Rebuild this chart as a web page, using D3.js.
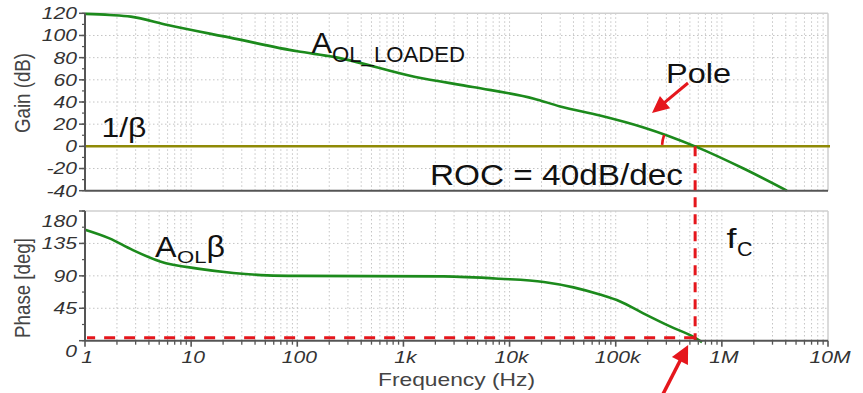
<!DOCTYPE html>
<html><head><meta charset="utf-8">
<script src="https://cdn.jsdelivr.net/npm/d3@7"></script>
<style>html,body{margin:0;padding:0;background:#fff;} svg{display:block;}</style>
</head><body>
<svg id="chart" width="863" height="393"></svg>
<script>
// Frequency axis (Hz), decades with their labels
const decadeTicks = [1, 10, 100, 1e3, 1e4, 1e5, 1e6, 1e7];
const decadeLabels = ["1", "10", "100", "1k", "10k", "100k", "1M", "10M"];
const gainTicks = [-40, -20, 0, 20, 40, 60, 80, 100, 120];
const phaseTicks = [0, 45, 90, 135, 180];

// Open-loop gain of the loaded amplifier, A_OL_LOADED (dB)
const gainFreq = [1, 1.7, 2.7, 6, 25, 100, 220, 1300, 4500, 17000, 30000, 71000, 180000, 560000, 1600000, 4100000];
const gainDb   = [119.5, 118.5, 117, 109.4, 97.4, 85.7, 80.7, 62.6, 53.5, 43, 36, 27.9, 17.3, 0, -20, -40];

// Loop-gain phase, A_OL·β (deg)
const phaseFreq = [1, 1.7, 2.8, 5.1, 12, 25, 52, 100, 2400, 8000, 21000, 40000, 71000, 110000, 180000, 325000, 560000, 650000];
const phaseDeg  = [154, 142, 126, 110, 99.7, 94, 90.7, 90, 89.3, 86, 81.4, 74, 64, 54.4, 38.3, 19.8, 4, -2];

// Feedback factor line (1/β, dB) and the crossover point
const invBetaDb = 0;
const crossoverHz = 560000;
const crossoverPhase = 4;

const svg = d3.select("#chart");
const x  = d3.scaleLog().domain([1, 1e7]).range([85, 828]);
const yG = d3.scaleLinear().domain([-40, 120]).range([190.7, 13.3]);
const yP = d3.scaleLinear().domain([0, 180]).range([340.7, 211]);

const GREEN = "#1c8a1c", OLIVE = "#8f8a06", RED = "#e5161c", AXIS = "#555", GRID = "#c4c4c4";
const FONT = "'Liberation Sans', Arial, sans-serif";

// minor + major decade positions for the vertical grid
const minorFreqs = [];
for (let d = 0; d < 7; d++) for (let m = 2; m <= 9; m++) minorFreqs.push(m * Math.pow(10, d));
const gridFreqs = minorFreqs.concat(decadeTicks.slice(1, -1));

function panel(y, ticks) {
  const g = svg.append("g");
  const [y0, y1] = y.range();
  // dotted grid
  g.selectAll(".vg").data(gridFreqs).join("line")
    .attr("x1", d => x(d)).attr("x2", d => x(d)).attr("y1", y1).attr("y2", y0)
    .attr("stroke", GRID).attr("stroke-width", 1).attr("stroke-dasharray", "1.5,2.5");
  g.selectAll(".hg").data(ticks.slice(1, -1)).join("line")
    .attr("x1", x.range()[0]).attr("x2", x.range()[1]).attr("y1", d => y(d)).attr("y2", d => y(d))
    .attr("stroke", GRID).attr("stroke-width", 1).attr("stroke-dasharray", "1.5,2.5");
  // frame (top / right light)
  g.append("line").attr("x1", x.range()[0]).attr("x2", x.range()[1]).attr("y1", y1).attr("y2", y1)
    .attr("stroke", "#cfcfcf").attr("stroke-width", 1.5);
  g.append("line").attr("x1", x.range()[1]).attr("x2", x.range()[1]).attr("y1", y1).attr("y2", y0)
    .attr("stroke", "#cfcfcf").attr("stroke-width", 1.5);
  return g;
}

function leftAxis(y, ticks, minorStep, labelShift) {
  const g = svg.append("g");
  const [y0, y1] = y.range();
  const minors = d3.range(y.domain()[0], y.domain()[1] + 0.001, minorStep);
  g.selectAll(".mt").data(minors).join("line")
    .attr("x1", 82).attr("x2", 85).attr("y1", d => y(d)).attr("y2", d => y(d))
    .attr("stroke", AXIS).attr("stroke-width", 1.2);
  g.selectAll(".Mt").data(ticks).join("line")
    .attr("x1", 79).attr("x2", 85).attr("y1", d => y(d)).attr("y2", d => y(d))
    .attr("stroke", AXIS).attr("stroke-width", 1.5);
  g.append("line").attr("x1", 85).attr("x2", 85).attr("y1", y1).attr("y2", y0)
    .attr("stroke", AXIS).attr("stroke-width", 2);
  g.selectAll(".tl").data(ticks).join("text")
    .attr("transform", d => `translate(77,${y(d) + (labelShift[d] || 0)}) scale(1.28,1)`)
    .attr("text-anchor", "end").attr("dy", "0.36em")
    .attr("font-family", FONT).attr("font-style", "italic").attr("font-size", 16.5)
    .attr("fill", "#333").text(d => d);
}

function axisTitle(text, cx, cy) {
  svg.append("text")
    .attr("transform", `translate(${cx},${cy}) scale(1.15,1) rotate(-90)`)
    .attr("text-anchor", "middle").attr("font-family", FONT).attr("font-size", 18.7)
    .attr("fill", "#444").text(text);
}

// ---------- Gain panel ----------
panel(yG, gainTicks);
svg.append("line").attr("x1", x.range()[0]).attr("x2", x.range()[1] + 2)
  .attr("y1", yG(invBetaDb)).attr("y2", yG(invBetaDb))
  .attr("stroke", OLIVE).attr("stroke-width", 2.5);

const gainData = gainFreq.map((f, i) => ({ f, v: gainDb[i] }));
svg.append("path").datum(gainData)
  .attr("d", d3.line().x(d => x(d.f)).y(d => yG(d.v)).curve(d3.curveMonotoneX))
  .attr("fill", "none").attr("stroke", GREEN).attr("stroke-width", 2.6);

svg.append("line").attr("x1", x.range()[0]).attr("x2", x.range()[1])
  .attr("y1", yG(-40)).attr("y2", yG(-40)).attr("stroke", AXIS).attr("stroke-width", 2);
leftAxis(yG, gainTicks, 10, {});
axisTitle("Gain (dB)", 30, 93);

// ---------- Phase panel ----------
panel(yP, phaseTicks);
const phaseData = phaseFreq.map((f, i) => ({ f, v: phaseDeg[i] }));
svg.append("path").datum(phaseData)
  .attr("d", d3.line().x(d => x(d.f)).y(d => yP(d.v)).curve(d3.curveMonotoneX))
  .attr("fill", "none").attr("stroke", GREEN).attr("stroke-width", 2.6);

// crossover markers
const cx = x(crossoverHz), cy = yG(invBetaDb);
svg.append("line").attr("x1", cx).attr("x2", cx).attr("y1", cy).attr("y2", yP(0))
  .attr("stroke", RED).attr("stroke-width", 3).attr("stroke-dasharray", "10,7");
svg.append("line").attr("x1", cx).attr("x2", x.range()[0] + 2)
  .attr("y1", yP(crossoverPhase)).attr("y2", yP(crossoverPhase))
  .attr("stroke", RED).attr("stroke-width", 3).attr("stroke-dasharray", "11,9");

// bottom frequency axis
const bx = svg.append("g");
bx.append("line").attr("x1", x.range()[0]).attr("x2", x.range()[1])
  .attr("y1", yP(0)).attr("y2", yP(0)).attr("stroke", AXIS).attr("stroke-width", 2);
bx.selectAll(".mt").data(minorFreqs).join("line")
  .attr("x1", d => x(d)).attr("x2", d => x(d)).attr("y1", yP(0)).attr("y2", yP(0) + 4)
  .attr("stroke", AXIS).attr("stroke-width", 1.3);
bx.selectAll(".Mt").data(decadeTicks).join("line")
  .attr("x1", d => x(d)).attr("x2", d => x(d)).attr("y1", yP(0)).attr("y2", yP(0) + 6)
  .attr("stroke", AXIS).attr("stroke-width", 1.6);
bx.selectAll(".tl").data(decadeTicks).join("text")
  .attr("transform", d => `translate(${x(d) + 2},363) scale(1.28,1)`)
  .attr("text-anchor", "middle").attr("font-family", FONT).attr("font-style", "italic")
  .attr("font-size", 16.5).attr("fill", "#333").text((d, i) => decadeLabels[i]);
svg.append("text").attr("x", 456.5).attr("y", 385.5).attr("text-anchor", "middle")
  .attr("font-family", FONT).attr("font-size", 18.6).attr("textLength", 157)
  .attr("lengthAdjust", "spacingAndGlyphs").attr("fill", "#444").text("Frequency (Hz)");

leftAxis(yP, phaseTicks, 22.5, { 180: 10, 0: 10 });
axisTitle("Phase [deg]", 30, 288);

// ---------- annotations ----------
function label(txt, x0, y0, size, len) {
  const t = svg.append("text").attr("x", x0).attr("y", y0)
    .attr("font-family", FONT).attr("font-size", size).attr("fill", "#111").text(txt);
  if (len) t.attr("textLength", len).attr("lengthAdjust", "spacingAndGlyphs");
  return t;
}
label("1/β", 101.5, 136.5, 28, 45);
label("A", 311.5, 53.3, 29, 20.5);
label("OL_LOADED", 332, 62.3, 21.5, 133);
label("Pole", 666, 83, 28, 65);
label("ROC = 40dB/dec", 430, 185, 30, 253);
label("A", 155, 256.7, 30, 21.5);
label("OL", 177, 263.3, 17, 29.5);
label("β", 206.5, 256.7, 30, 18.5);
label("f", 726.5, 248.3, 28, 10);
label("C", 737, 255.7, 20, 15.5);

// angle arc between the 1/β line and the gain curve at crossover
const iC = gainFreq.indexOf(crossoverHz);
const ang = Math.atan2(yG(gainDb[iC - 1]) - cy, x(gainFreq[iC - 1]) - cx);
const r = 33;
svg.append("path")
  .attr("d", `M${cx - r},${cy - 1.5} A${r},${r} 0 0 1 ${cx + r * Math.cos(ang)},${cy + r * Math.sin(ang)}`)
  .attr("fill", "none").attr("stroke", RED).attr("stroke-width", 2.6);

function arrow(x1, y1, x2, y2, headLen, headHalf, w) {
  const a = Math.atan2(y2 - y1, x2 - x1);
  const bx0 = x2 - headLen * Math.cos(a), by0 = y2 - headLen * Math.sin(a);
  svg.append("line").attr("x1", x1).attr("y1", y1).attr("x2", bx0 + 2 * Math.cos(a)).attr("y2", by0 + 2 * Math.sin(a))
    .attr("stroke", RED).attr("stroke-width", w);
  const px = -Math.sin(a) * headHalf, py = Math.cos(a) * headHalf;
  svg.append("path")
    .attr("d", `M${x2},${y2} L${bx0 + px},${by0 + py} L${bx0 - px},${by0 - py} Z`)
    .attr("fill", RED);
}
arrow(688, 83, 652, 113, 17, 8, 3);
arrow(662, 396, cx - 7, 345, 18, 9, 3.5);
</script>
</body></html>
